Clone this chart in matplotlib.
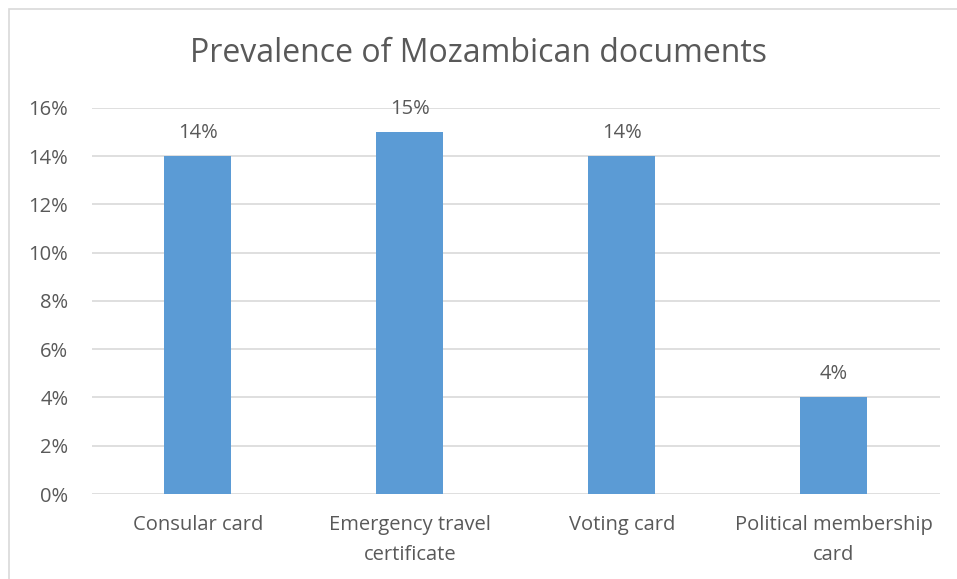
import matplotlib.pyplot as plt
from matplotlib.patches import Rectangle

categories = ["Consular card", "Emergency travel\ncertificate", "Voting card", "Political membership\ncard"]
values = [14, 15, 14, 4]
yticks = [0, 2, 4, 6, 8, 10, 12, 14, 16]

plt.rcParams['font.family'] = ['Open Sans', 'DejaVu Sans']
text_color = '#595959'
grid_color = '#D9D9D9'

fig = plt.figure(figsize=(9.57, 5.79), dpi=100)
ax = fig.add_axes([0.0961, 0.1468, 0.8859, 0.6667])

# chart border (cropped at right and bottom in the reference)
fig.patches.append(Rectangle((9/957, -0.1), 1.2, 1 - 9/579 + 0.1, transform=fig.transFigure,
                             fill=False, edgecolor=grid_color, linewidth=1.2))

x = range(len(categories))
bars = ax.bar(x, values, width=0.316, color='#5B9BD5', zorder=3)
for b, v in zip(bars, values):
    ax.text(b.get_x() + b.get_width() / 2, v + 0.55, f"{v}%", ha='center', va='bottom',
            fontsize=14.5, color=text_color)

ax.set_xlim(-0.5, len(categories) - 0.5)
ax.set_ylim(0, 16)
ax.set_yticks(yticks)
ax.set_yticklabels([f"{t}%" for t in yticks])
ax.set_xticks(list(x))
ax.set_xticklabels(categories, linespacing=1.65)
ax.yaxis.grid(True, color=grid_color, linewidth=1.2, zorder=0)
ax.tick_params(axis='both', length=0, labelsize=14.5, labelcolor=text_color)
ax.tick_params(axis='y', pad=17)
ax.tick_params(axis='x', pad=15)
for s in ax.spines.values():
    s.set_visible(False)

fig.text(0.5, 1 - 54/579, "Prevalence of Mozambican documents", ha='center', va='center',
         fontsize=23, color=text_color)

fig.savefig('out.png', dpi=100)
